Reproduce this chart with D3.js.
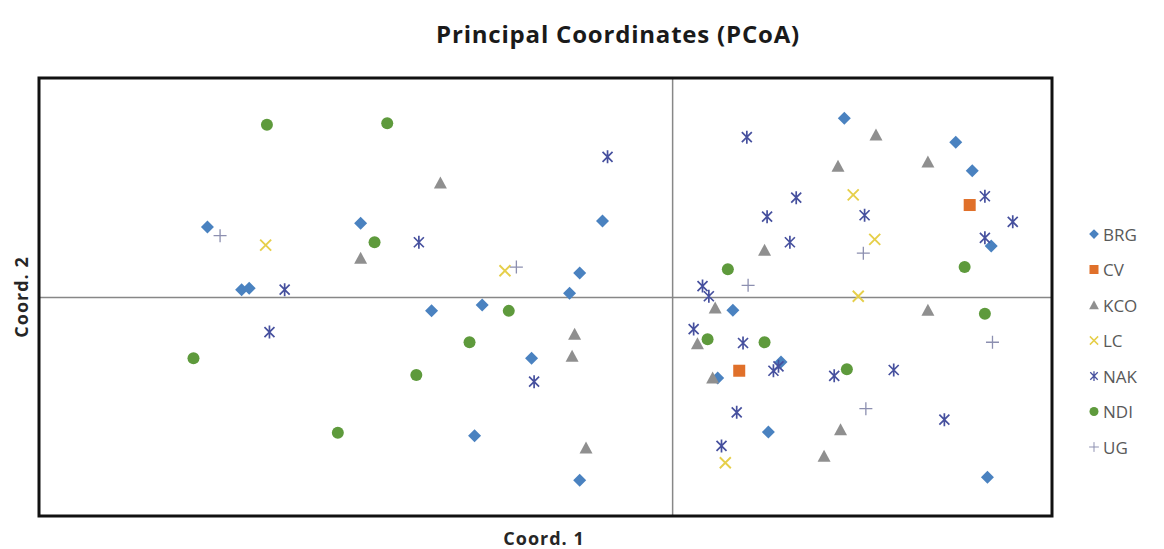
<!DOCTYPE html>
<html>
<head>
<meta charset="utf-8">
<script src="https://cdn.jsdelivr.net/npm/d3@7"></script>
<style>
  body { margin: 0; background: #fff; }
  svg { display: block; }
</style>
</head>
<body>
<div id="chart"></div>
<script>
// values, [coord1, coord2]
const brg = [[-0.367,0.096],[-0.340,0.010],[-0.334,0.012],[-0.246,0.101],[-0.190,-0.019],[-0.150,-0.011],
  [-0.081,0.005],[-0.073,0.033],[-0.055,0.104],[-0.111,-0.084],[-0.156,-0.190],[-0.073,-0.251],
  [0.136,0.245],[0.224,0.212],[0.237,0.173],[0.252,0.070],[0.048,-0.018],[0.086,-0.089],
  [0.076,-0.185],[0.036,-0.111],[0.249,-0.247]];
const cv = [[0.235,0.126],[0.053,-0.101]];
const kco = [[-0.183,0.156],[-0.246,0.053],[-0.077,-0.051],[-0.079,-0.081],[-0.068,-0.207],[0.161,0.222],
  [0.131,0.179],[0.202,0.185],[0.073,0.064],[0.034,-0.015],[0.020,-0.064],[0.032,-0.111],
  [0.133,-0.182],[0.120,-0.218],[0.202,-0.018]];
const lc = [[-0.321,0.071],[-0.132,0.036],[0.143,0.140],[0.160,0.079],[0.147,0.001],[0.042,-0.227]];
const nak = [[-0.051,0.192],[-0.200,0.075],[-0.318,-0.048],[-0.306,0.010],[-0.109,-0.116],[0.059,0.219],
  [0.098,0.136],[0.075,0.110],[0.152,0.112],[0.093,0.075],[0.247,0.138],[0.269,0.103],[0.247,0.081],
  [0.024,0.015],[0.029,0.001],[0.017,-0.044],[0.056,-0.063],[0.084,-0.095],[0.080,-0.101],
  [0.128,-0.108],[0.175,-0.100],[0.051,-0.158],[0.215,-0.168],[0.039,-0.204]];
const ndi = [[-0.320,0.236],[-0.225,0.238],[-0.235,0.075],[-0.378,-0.084],[-0.264,-0.186],[-0.202,-0.107],
  [-0.160,-0.062],[-0.129,-0.019],[0.044,0.038],[0.028,-0.058],[0.073,-0.062],[0.138,-0.099],
  [0.231,0.041],[0.247,-0.023]];
const ug = [[-0.357,0.084],[-0.123,0.041],[0.060,0.016],[0.151,0.060],[0.253,-0.062],[0.153,-0.153]];

const seriesNames = ["BRG", "CV", "KCO", "LC", "NAK", "NDI", "UG"];
const seriesData = [brg, cv, kco, lc, nak, ndi, ug];
const seriesColors = ["#4a82c0", "#e0702a", "#8f8f8f", "#e6cf4a", "#46509e", "#5e9a3c", "#8c8fb0"];
const seriesShapes = ["diamond", "square", "triangle", "x", "star", "circle", "plus"];

const xDomain = [-0.5, 0.3];
const yDomain = [-0.3, 0.3];

const width = 1164, height = 549;
const plot = { left: 39, right: 1052, top: 78, bottom: 516 };

const x = d3.scaleLinear().domain(xDomain).range([plot.left, plot.right]);
const y = d3.scaleLinear().domain(yDomain).range([plot.bottom, plot.top]);

const svg = d3.select("#chart").append("svg")
  .attr("width", width)
  .attr("height", height)
  .attr("font-family", "'Open Sans', sans-serif");

svg.append("text")
  .attr("x", 618).attr("y", 43)
  .attr("text-anchor", "middle")
  .attr("font-size", 24).attr("font-weight", "bold")
  .attr("letter-spacing", 0.8)
  .attr("fill", "#1a1a1a")
  .text("Principal Coordinates (PCoA)");

// axes through the origin, no ticks (as in the original)
svg.append("g")
  .attr("transform", `translate(0,${y(0)})`)
  .call(d3.axisBottom(x).tickValues([]).tickSizeOuter(0))
  .call(g => g.select(".domain").attr("stroke", "#878787").attr("stroke-width", 1.5));

svg.append("g")
  .attr("transform", `translate(${x(0)},0)`)
  .call(d3.axisLeft(y).tickValues([]).tickSizeOuter(0))
  .call(g => g.select(".domain").attr("stroke", "#878787").attr("stroke-width", 1.5));

svg.append("rect")
  .attr("x", plot.left).attr("y", plot.top)
  .attr("width", plot.right - plot.left).attr("height", plot.bottom - plot.top)
  .attr("fill", "none").attr("stroke", "#111").attr("stroke-width", 3);

svg.append("text")
  .attr("x", 544).attr("y", 545)
  .attr("text-anchor", "middle")
  .attr("font-size", 18).attr("font-weight", "bold").attr("fill", "#262626")
  .attr("letter-spacing", 1)
  .text("Coord. 1");

svg.append("text")
  .attr("transform", `translate(28,${y(0)}) rotate(-90)`)
  .attr("text-anchor", "middle")
  .attr("font-size", 18).attr("font-weight", "bold").attr("fill", "#262626")
  .attr("letter-spacing", 1)
  .text("Coord. 2");

function marker(sel, shape, color) {
  const s = 6.5;
  if (shape === "diamond") {
    sel.append("path").attr("d", `M0,${-s}L${s},0L0,${s}L${-s},0Z`).attr("fill", color);
  } else if (shape === "square") {
    sel.append("rect").attr("x", -6).attr("y", -6).attr("width", 12).attr("height", 12).attr("fill", color);
  } else if (shape === "triangle") {
    sel.append("path").attr("d", `M0,${-s}L${s},${s - 1}L${-s},${s - 1}Z`).attr("fill", color);
  } else if (shape === "circle") {
    sel.append("circle").attr("r", 6).attr("fill", color);
  } else if (shape === "x") {
    sel.append("path").attr("d", `M-5.5,-5.5L5.5,5.5M5.5,-5.5L-5.5,5.5`).attr("stroke", color).attr("stroke-width", 1.9).attr("fill", "none");
  } else if (shape === "star") {
    sel.append("path").attr("d", `M-5,-5L5,5M5,-5L-5,5M0,-6.5L0,6.5`).attr("stroke", color).attr("stroke-width", 1.7).attr("fill", "none");
  } else if (shape === "plus") {
    sel.append("path").attr("d", `M-6.5,0L6.5,0M0,-6.5L0,6.5`).attr("stroke", color).attr("stroke-width", 1.3).attr("fill", "none");
  }
}

seriesData.forEach((pts, i) => {
  const g = svg.append("g").attr("class", "series-" + seriesNames[i]);
  g.selectAll("g")
    .data(pts)
    .join("g")
      .attr("transform", d => `translate(${x(d[0])},${y(d[1])})`)
      .each(function() { marker(d3.select(this), seriesShapes[i], seriesColors[i]); });
});

// legend
const legend = svg.append("g")
  .selectAll("g")
  .data(seriesNames)
  .join("g")
    .attr("transform", (d, i) => `translate(1094,${234 + i * 35.5})`);

legend.each(function(d, i) {
  const g = d3.select(this).append("g").attr("transform", "scale(0.75)");
  marker(g, seriesShapes[i], seriesColors[i]);
});

legend.append("text")
  .attr("x", 9).attr("y", 6.5)
  .attr("font-size", 17).attr("fill", "#595959")
  .text(d => d);
</script>
</body>
</html>
